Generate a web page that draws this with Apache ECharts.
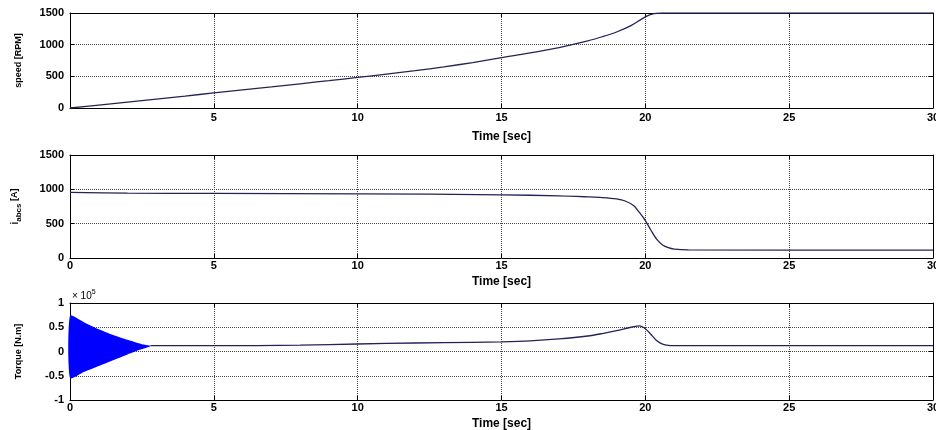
<!DOCTYPE html>
<html>
<head>
<meta charset="utf-8">
<script src="https://cdn.jsdelivr.net/npm/echarts@6/dist/echarts.min.js"></script>
<style>
html, body { margin: 0; padding: 0; background: #fff; }
#main { width: 936px; height: 430px; }
</style>
</head>
<body>
<div id="main"></div>
<script>
// speed [RPM]
var speedTime = [0, 1, 2, 3, 4, 5, 6, 7, 8, 9, 10, 11, 12, 13, 14, 15, 16, 17, 18, 18.5, 19, 19.5, 20, 20.3, 20.6, 30];
var speedRpm  = [0, 45, 92, 140, 188, 238, 285, 332, 382, 432, 483, 535, 590, 650, 718, 795, 870, 955, 1060, 1125, 1200, 1300, 1440, 1490, 1500, 1500];

// stator current [A]
var currentTime = [0, 2, 5, 10, 15, 17, 18, 18.5, 19, 19.3, 19.6, 19.8, 20, 20.2, 20.4, 20.6, 20.8, 21, 21.5, 30];
var currentAmp  = [955, 945, 940, 935, 920, 905, 890, 880, 860, 830, 760, 660, 545, 400, 270, 190, 150, 130, 118, 115];

// torque [N.m]
var torqueTime = [2.8, 5, 8, 10, 12, 14, 15, 16, 17, 18, 18.5, 19, 19.5, 19.8, 20, 20.2, 20.4, 20.6, 20.8, 21, 30];
var torqueNm   = [12000, 12000, 13000, 15500, 17500, 19000, 20000, 22000, 26000, 32000, 37000, 43000, 50000, 53000, 47000, 35000, 22000, 15000, 12500, 12000, 12000];

// start-up oscillation envelope of torque
var envTime  = [0, 0.5, 1, 1.5, 2, 2.5, 2.8];
var envUpper = [74000, 60000, 46000, 34000, 24000, 15000, 12000];
var envLower = [-55000, -42000, -30000, -18000, -6000, 5000, 11000];

var font = 'Liberation Sans, Arial, sans-serif';
var lineColor = '#23235a';

function zip(a, b) {
    var out = [];
    for (var i = 0; i < a.length; i++) {
        out.push([a[i], b[i]]);
    }
    return out;
}

var grids = [
    { left: 70, right: 3, top: 13, height: 95, outerBoundsMode: 'none' },
    { left: 70, right: 3, top: 155, height: 103, outerBoundsMode: 'none' },
    { left: 70, right: 3, top: 303, height: 97, outerBoundsMode: 'none' }
];

var yRanges = [
    { min: 0, max: 1500, interval: 500 },
    { min: 0, max: 1500, interval: 500 },
    { min: -100000, max: 100000, interval: 50000 }
];

var yNames = [
    'speed [RPM]',
    '{i|i}{s|abcs}{n| [A]}',
    'Torque [N.m]'
];

var labelMargins = [4, 2, 2];
var nameGaps = [23, 18, 18];

var xAxes = [];
var yAxes = [];
for (var g = 0; g < 3; g++) {
    xAxes.push({
        type: 'value', gridIndex: g, min: 0, max: 30, interval: 5,
        axisLine: { show: true, onZero: false, lineStyle: { color: '#000', width: 1 } },
        axisTick: { inside: true, length: 4, lineStyle: { color: '#000' } },
        axisLabel: { color: '#000', fontSize: 11, fontWeight: 'bold', fontFamily: font, margin: labelMargins[g], showMinLabel: g > 0 },
        splitLine: { show: true, lineStyle: { type: 'dotted', color: '#444', width: 1 } },
        name: 'Time [sec]', nameLocation: 'middle', nameGap: nameGaps[g],
        nameTextStyle: { color: '#000', fontSize: 12, fontWeight: 'bold', fontFamily: font }
    });
    xAxes.push({
        type: 'value', gridIndex: g, min: 0, max: 30, interval: 5, position: 'top',
        axisLine: { show: true, onZero: false, lineStyle: { color: '#000', width: 1 } },
        axisTick: { inside: true, length: 4, lineStyle: { color: '#000' } },
        axisLabel: { show: false },
        splitLine: { show: false }
    });
    var r = yRanges[g];
    yAxes.push({
        type: 'value', gridIndex: g, min: r.min, max: r.max, interval: r.interval,
        axisLine: { show: true, onZero: false, lineStyle: { color: '#000', width: 1 } },
        axisTick: { inside: true, length: 4, lineStyle: { color: '#000' } },
        axisLabel: {
            color: '#000', fontSize: 11, fontWeight: 'bold', fontFamily: font, margin: 6,
            formatter: g == 2 ? function (v) { return String(v / 100000); } : function (v) { return String(v); }
        },
        splitLine: { show: true, lineStyle: { type: 'dotted', color: '#444', width: 1 } },
        name: yNames[g], nameLocation: 'middle', nameRotate: 90, nameGap: 47,
        nameTextStyle: {
            color: '#000', fontSize: 9, fontWeight: 'bold', fontFamily: font,
            rich: {
                i: { fontSize: 10, fontWeight: 'bold', fontFamily: font, lineHeight: 16 },
                s: { fontSize: 8, fontWeight: 'bold', fontFamily: font, verticalAlign: 'bottom', lineHeight: 14 },
                n: { fontSize: 9, fontWeight: 'bold', fontFamily: font, lineHeight: 16 }
            }
        }
    });
    yAxes.push({
        type: 'value', gridIndex: g, min: r.min, max: r.max, interval: r.interval, position: 'right',
        axisLine: { show: true, onZero: false, lineStyle: { color: '#000', width: 1 } },
        axisTick: { inside: true, length: 4, lineStyle: { color: '#000' } },
        axisLabel: { show: false },
        splitLine: { show: false }
    });
}

var chart = echarts.init(document.getElementById('main'));
var option = {
    backgroundColor: '#fff',
    animation: false,
    grid: grids,
    xAxis: xAxes,
    yAxis: yAxes,
    graphic: [{
        type: 'text', x: 72, y: 289,
        style: {
            text: '{a|× 10}{b|5}',
            rich: {
                a: { fontSize: 10, fontFamily: font, fill: '#000', lineHeight: 14 },
                b: { fontSize: 7, fontFamily: font, fill: '#000', verticalAlign: 'top', lineHeight: 10 }
            }
        }
    }],
    series: [
        {
            type: 'line', xAxisIndex: 0, yAxisIndex: 0, data: zip(speedTime, speedRpm),
            showSymbol: false, smooth: 0.3, lineStyle: { color: lineColor, width: 1.3 }
        },
        {
            type: 'line', xAxisIndex: 2, yAxisIndex: 2, data: zip(currentTime, currentAmp),
            showSymbol: false, smooth: 0.3, lineStyle: { color: lineColor, width: 1.3 }
        },
        {
            type: 'custom', xAxisIndex: 4, yAxisIndex: 4, data: [[0, 0]],
            renderItem: function (params, api) {
                var pts = [];
                for (var i = 0; i < envTime.length; i++) {
                    pts.push(api.coord([envTime[i], envUpper[i]]));
                }
                for (var j = envTime.length - 1; j >= 0; j--) {
                    pts.push(api.coord([envTime[j], envLower[j]]));
                }
                return { type: 'polygon', shape: { points: pts, smooth: 0.2 }, style: { fill: '#0000ff' } };
            }
        },
        {
            type: 'line', xAxisIndex: 4, yAxisIndex: 4, data: zip(torqueTime, torqueNm),
            showSymbol: false, smooth: 0.3, lineStyle: { color: lineColor, width: 1.3 }
        }
    ]
};
chart.setOption(option);
</script>
</body>
</html>
